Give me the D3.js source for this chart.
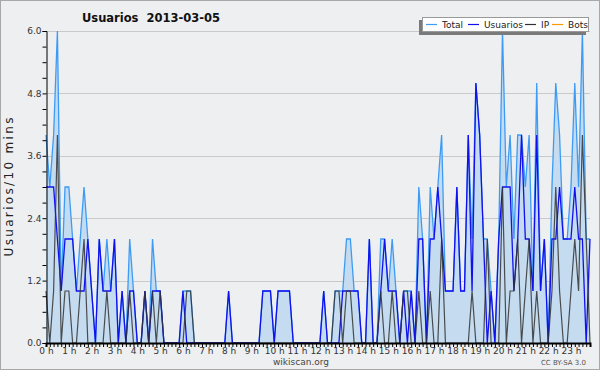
<!DOCTYPE html>
<html>
<head>
<meta charset="utf-8">
<script src="https://cdn.jsdelivr.net/npm/d3@7"></script>
<style>
  body { margin: 0; background: #fff; }
  svg text { font-family: "DejaVu Sans", sans-serif; }
</style>
</head>
<body>
<div id="chart"></div>
<script>
/* Usuarios 2013-03-05, one point every 10 minutes */

const total = [
  4, 3, 4, 6, 1, 3, 3, 2, 1, 2, 3, 2,
  1, 0, 2, 1, 2, 1, 2, 0, 1, 0, 2, 1,
  0, 0, 1, 0, 2, 1, 1, 0, 0, 0, 0, 0,
  1, 1, 1, 0, 0, 0, 0, 0, 0, 0, 0, 0,
  1, 0, 0, 0, 0, 0, 0, 0, 0, 1, 1, 1,
  0, 1, 1, 1, 1, 0, 0, 0, 0, 0, 0, 0,
  0, 1, 0, 0, 1, 1, 1, 2, 2, 1, 1, 0,
  0, 2, 0, 0, 2, 2, 1, 2, 1, 0, 1, 1,
  1, 0, 3, 2, 0, 3, 2, 3, 4, 1, 1, 1,
  3, 1, 1, 4, 2, 5, 4, 2, 2, 1, 0, 2,
  6, 3, 4, 2, 4, 4, 3, 4, 1, 5, 1, 2,
  0, 3, 5, 4, 2, 2, 3, 5, 3, 6, 2, 2
];

const usuarios = [
  3, 3, 3, 2, 1, 2, 2, 2, 1, 1, 1, 2,
  1, 0, 2, 1, 1, 1, 2, 0, 1, 0, 1, 1,
  0, 0, 1, 0, 1, 1, 1, 0, 0, 0, 0, 0,
  1, 0, 0, 0, 0, 0, 0, 0, 0, 0, 0, 0,
  1, 0, 0, 0, 0, 0, 0, 0, 0, 1, 1, 1,
  0, 1, 1, 1, 1, 0, 0, 0, 0, 0, 0, 0,
  0, 1, 0, 0, 0, 0, 1, 1, 1, 1, 1, 0,
  0, 2, 0, 0, 1, 2, 1, 1, 1, 0, 1, 0,
  1, 0, 2, 2, 0, 2, 2, 3, 2, 1, 1, 1,
  3, 1, 1, 4, 1, 5, 4, 2, 0, 1, 0, 2,
  3, 3, 3, 1, 2, 4, 2, 2, 1, 4, 1, 2,
  0, 2, 2, 3, 2, 2, 2, 3, 2, 2, 0, 2
];

const ip = [
  1, 0, 1, 4, 0, 1, 1, 0, 0, 1, 2, 0,
  0, 0, 0, 0, 1, 0, 0, 0, 0, 0, 1, 0,
  0, 0, 1, 0, 1, 0, 1, 0, 0, 0, 0, 0,
  0, 1, 1, 0, 0, 0, 0, 0, 0, 0, 0, 0,
  0, 0, 0, 0, 0, 0, 0, 0, 0, 0, 0, 0,
  0, 0, 0, 0, 0, 0, 0, 0, 0, 0, 0, 0,
  0, 0, 0, 0, 1, 1, 0, 1, 1, 0, 0, 0,
  0, 0, 0, 0, 1, 0, 0, 1, 0, 0, 1, 1,
  0, 0, 1, 0, 0, 1, 0, 0, 2, 0, 0, 0,
  0, 0, 0, 0, 1, 0, 0, 0, 2, 0, 0, 0,
  3, 0, 1, 1, 2, 0, 1, 2, 0, 1, 0, 0,
  0, 1, 3, 1, 0, 0, 1, 2, 1, 4, 2, 0
];

const bots = [
  0, 0, 0, 0, 0, 0, 0, 0, 0, 0, 0, 0,
  0, 0, 0, 0, 0, 0, 0, 0, 0, 0, 0, 0,
  0, 0, 0, 0, 0, 0, 0, 0, 0, 0, 0, 0,
  0, 0, 0, 0, 0, 0, 0, 0, 0, 0, 0, 0,
  0, 0, 0, 0, 0, 0, 0, 0, 0, 0, 0, 0,
  0, 0, 0, 0, 0, 0, 0, 0, 0, 0, 0, 0,
  0, 0, 0, 0, 0, 0, 0, 0, 0, 0, 0, 0,
  0, 0, 0, 0, 0, 0, 0, 0, 0, 0, 0, 0,
  0, 0, 0, 0, 0, 0, 0, 0, 0, 0, 0, 0,
  0, 0, 0, 0, 0, 0, 0, 0, 0, 0, 0, 0,
  0, 0, 0, 0, 0, 0, 0, 0, 0, 0, 0, 0,
  0, 0, 0, 0, 0, 0, 0, 0, 0, 0, 0, 0
];

const yTicks = [0, 1.2, 2.4, 3.6, 4.8, 6.0];
const hourLabels = [
  "0 h", "1 h", "2 h", "3 h", "4 h", "5 h", "6 h", "7 h", "8 h", "9 h", "10 h", "11 h",
  "12 h", "13 h", "14 h", "15 h", "16 h", "17 h", "18 h", "19 h", "20 h", "21 h", "22 h", "23 h"
];
const legendNames = ["Total", "Usuarios", "IP", "Bots"];
const legendColors = ["#3d9bf5", "#1010f0", "#333333", "#ff9900"];

const W = 600, H = 370;
const plot = { left: 46, right: 590, top: 31, bottom: 343 };

const svg = d3.select("#chart").append("svg")
    .attr("width", W)
    .attr("height", H);

svg.append("rect")
    .attr("x", 0.5).attr("y", 0.5)
    .attr("width", W - 1).attr("height", H - 1)
    .attr("fill", "#eeeff0")
    .attr("stroke", "#a8a8a8");

const x = d3.scaleLinear().domain([0, total.length - 1]).range([plot.left, plot.right]);
const y = d3.scaleLinear().domain([0, 6]).range([plot.bottom, plot.top]);

// horizontal grid
svg.append("g")
  .selectAll("line")
  .data(yTicks.slice(1))
  .join("line")
    .attr("x1", plot.left).attr("x2", plot.right)
    .attr("y1", d => Math.round(y(d)) + 0.5).attr("y2", d => Math.round(y(d)) + 0.5)
    .attr("stroke", "#c9c9c9");

const area = d3.area()
    .x((d, i) => x(i))
    .y0(y(0))
    .y1(d => y(d));

const line = d3.line()
    .x((d, i) => x(i))
    .y(d => y(d));

// bots sit on the zero line, under everything else
svg.append("path")
    .datum(bots)
    .attr("fill", "none")
    .attr("stroke", legendColors[3])
    .attr("stroke-width", 1)
    .attr("d", line);

svg.append("path")
    .datum(total)
    .attr("fill", "#c5dcf0")
    .attr("d", area);

svg.append("path")
    .datum(total)
    .attr("fill", "none")
    .attr("stroke", legendColors[0])
    .attr("stroke-width", 1.3)
    .attr("d", line);

svg.append("path")
    .datum(usuarios)
    .attr("fill", "none")
    .attr("stroke", legendColors[1])
    .attr("stroke-width", 1.3)
    .attr("d", line);

svg.append("path")
    .datum(ip)
    .attr("fill", "none")
    .attr("stroke", legendColors[2])
    .attr("stroke-opacity", 0.85)
    .attr("stroke-width", 1.2)
    .attr("d", line);

// y axis
const yMinor = d3.range(0, 6.01, 0.3);
const yAxis = d3.axisLeft(y)
    .tickValues(yMinor)
    .tickSize(4)
    .tickFormat(d => yTicks.some(t => Math.abs(t - d) < 1e-6) ? d.toFixed(1) : "");

svg.append("g")
    .attr("transform", "translate(" + (plot.left + 0.5) + ",0)")
    .call(yAxis)
    .call(g => g.select(".domain").attr("stroke", "#000"))
    .call(g => g.selectAll("text")
        .attr("font-size", 9)
        .attr("fill", "#333")
        .attr("x", -5));

// x axis: a tick every 10 minutes, label every hour
const xAxis = d3.axisBottom(x)
    .tickValues(d3.range(0, total.length))
    .tickSize(4)
    .tickFormat(i => i % 6 === 0 ? hourLabels[i / 6] : "");

svg.append("g")
    .attr("transform", "translate(0," + plot.bottom + ")")
    .call(xAxis)
    .call(g => g.select(".domain").attr("stroke", "#000").attr("stroke-width", 2))
    .call(g => g.selectAll("text")
        .attr("font-size", 9)
        .attr("fill", "#333")
        .attr("y", 5));

// title
svg.append("text")
    .attr("x", 151)
    .attr("y", 22)
    .attr("text-anchor", "middle")
    .attr("font-size", 11.5)
    .attr("font-weight", "bold")
    .attr("fill", "#111")
    .attr("xml:space", "preserve")
    .text("Usuarios  2013-03-05");

// y label
svg.append("text")
    .attr("transform", "translate(13," + ((plot.top + plot.bottom) / 2) + ") rotate(-90)")
    .attr("text-anchor", "middle")
    .attr("font-size", 12)
    .attr("font-family", "DejaVu Sans Mono, monospace")
    .attr("textLength", 139)
    .attr("lengthAdjust", "spacing")
    .attr("fill", "#222")
    .text("Usuarios/10 mins");

// footer
svg.append("text")
    .attr("x", 301).attr("y", 365)
    .attr("text-anchor", "middle")
    .attr("font-size", 9)
    .attr("fill", "#444")
    .text("wikiscan.org");

svg.append("text")
    .attr("x", 586).attr("y", 365)
    .attr("text-anchor", "end")
    .attr("font-size", 7)
    .attr("fill", "#555")
    .text("CC BY-SA 3.0");

// legend with drop shadow
const legend = svg.append("g");
legend.append("rect")
    .attr("x", 419).attr("y", 20)
    .attr("width", 167).attr("height", 15)
    .attr("fill", "#7a7a7a");
legend.append("rect")
    .attr("x", 422.5).attr("y", 17.5)
    .attr("width", 166).attr("height", 14)
    .attr("fill", "#fff")
    .attr("stroke", "#999");

const legendX = [426, 468, 525, 552];
const item = legend.selectAll("g.item")
  .data(legendNames)
  .join("g")
    .attr("class", "item")
    .attr("transform", (d, i) => "translate(" + legendX[i] + ",0)");

item.append("line")
    .attr("x1", 0).attr("x2", 11)
    .attr("y1", 24.5).attr("y2", 24.5)
    .attr("stroke", (d, i) => legendColors[i])
    .attr("stroke-width", 1.2);

item.append("text")
    .attr("x", 16).attr("y", 28)
    .attr("font-size", 9)
    .attr("fill", "#222")
    .text(d => d);
</script>
</body>
</html>
